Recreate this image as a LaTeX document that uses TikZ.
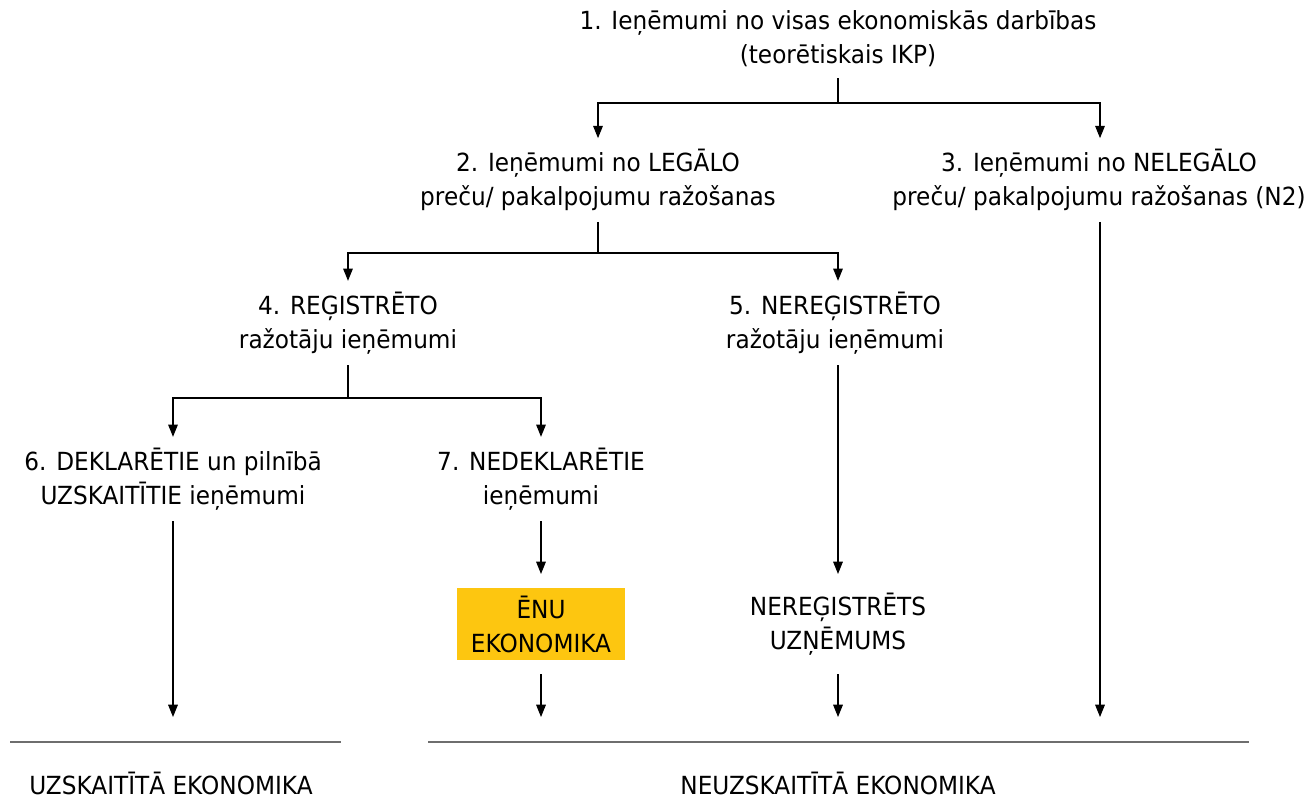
\documentclass[tikz,border=0pt]{standalone}
\usepackage{fontspec}
\setmainfont{DejaVu Sans}[FakeStretch=0.93]
\usetikzlibrary{arrows.meta}
\definecolor{enu}{RGB}{253,198,16}
\definecolor{rulegray}{RGB}{110,110,110}
\begin{document}
\begin{tikzpicture}[x=0.02cm, y=-0.02cm, >={Triangle[length=7pt,width=5.5pt]}, line width=0.6pt,
  txt/.style={font=\fontsize{14.2}{19.3}\selectfont, align=center, inner xsep=0pt, inner ysep=6pt},
  box/.style={txt, minimum width=3.38cm, minimum height=1.44cm, inner ysep=0pt, outer ysep=8pt}]
\useasboundingbox (0,0) rectangle (1310,800);

\node[txt] (n1) at (838,39) {1. Ieņēmumi no visas ekonomiskās darbības\\(teorētiskais IKP)};
\node[txt] (n2) at (598,180) {2. Ieņēmumi no LEGĀLO\\preču/ pakalpojumu ražošanas};
\node[txt] (n3) at (1099,180) {3. Ieņēmumi no NELEGĀLO\\preču/ pakalpojumu ražošanas (N2)};
\node[txt] (n4) at (348,323) {4. REĢISTRĒTO\\ražotāju ieņēmumi};
\node[txt] (n5) at (835,323) {5. NEREĢISTRĒTO\\ražotāju ieņēmumi};
\node[txt] (n6) at (173,479) {6. DEKLARĒTIE un pilnībā\\UZSKAITĪTIE ieņēmumi};
\node[txt] (n7) at (541,479) {7. NEDEKLARĒTIE\\ieņēmumi};
\node[box, fill=enu] (enu) at (541,624) {ĒNU\\EKONOMIKA};
\node[box] (unreg) at (838,624) {NEREĢISTRĒTS\\UZŅĒMUMS};
\node[txt] (uzsk) at (171,783) {UZSKAITĪTĀ EKONOMIKA};
\node[txt] (neuzsk) at (838,783) {NEUZSKAITĪTĀ EKONOMIKA};

\coordinate (j1) at (838,103);
\coordinate (j2) at (598,253);
\coordinate (j3) at (348,398);
\coordinate (e6) at (173,717);
\coordinate (e7) at (541,717);
\coordinate (e5) at (838,717);
\coordinate (e3) at (1100,717);

\draw (n1.south) -- (j1);
\draw[->] (j1) -| (n2.north);
\draw[->] (j1) -| (e3 |- n3.north);
\draw (n2.south) -- (j2);
\draw[->] (j2) -| (n4.north);
\draw[->] (j2) -| (e5 |- n5.north);
\draw (n4.south) -- (j3);
\draw[->] (j3) -| (n6.north);
\draw[->] (j3) -| (n7.north);
\draw[->] (e3 |- n3.south) -- (e3);
\draw[->] (e5 |- n5.south) -- (unreg.north);
\draw[->] (n6.south) -- (e6);
\draw[->] (n7.south) -- (enu.north);
\draw[->] (enu.south) -- (e7);
\draw[->] (unreg.south) -- (e5);

\draw[rulegray, line width=1.3pt] (10,742) -- (341,742);
\draw[rulegray, line width=1.3pt] (428,742) -- (1249,742);
\end{tikzpicture}
\end{document}
